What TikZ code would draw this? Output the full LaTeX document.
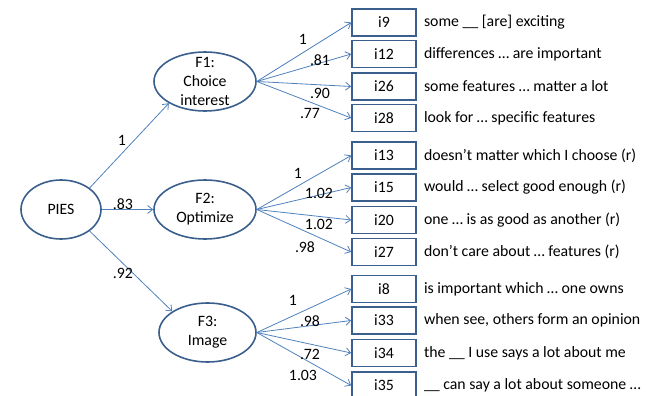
\documentclass[tikz,border=0pt]{standalone}
\usepackage{fontspec}
\setmainfont{Carlito}
\usetikzlibrary{shapes.geometric,positioning,arrows.meta}
\definecolor{shapeblue}{HTML}{3A5F8C}
\definecolor{lineblue}{HTML}{4F81BD}

\begin{document}
\begin{tikzpicture}[
  x = 1pt, y = -1pt,
  font = \fontsize{15.8}{19}\selectfont,
  factor/.style = {draw = shapeblue, line width = 1.6pt, ellipse, align = center,
                   inner xsep = 0pt, inner ysep = -8pt, minimum height = 59pt},
  item/.style = {draw = shapeblue, line width = 1.6pt, inner sep = 0pt,
                 minimum width = 64pt, minimum height = 27pt},
  wording/.style = {anchor = west, inner sep = 0pt},
  load/.style = {draw = lineblue, line width = 0.8pt,
                 -{Straight Barb[length = 5pt, width = 8pt]}},
  ]
  \useasboundingbox (0,0) rectangle (651,396);

  % latent variables
  \node[factor, minimum width = 80pt]  (PIES) at (61,209.5)  {PIES};
  \node[factor, minimum width = 102pt] (F1)   at (205,81.5)  {F1:\\Choice\\interest};
  \node[factor, minimum width = 102pt] (F2)   at (205,209.5) {F2:\\Optimize};
  \node[factor, minimum width = 97pt]  (F3)   at (207.5,332.5) {F3:\\Image};

  % items of F1
  \node[item] (i9)  at (384,22.5) {i9};
  \node[item] (i12) at (384,54)   {i12};
  \node[item] (i26) at (384,86.5) {i26};
  \node[item] (i28) at (384,118)  {i28};
  % items of F2
  \node[item] (i13) at (384,155.5) {i13};
  \node[item] (i15) at (384,187.5) {i15};
  \node[item] (i20) at (384,220)   {i20};
  \node[item] (i27) at (384,252)   {i27};
  % items of F3
  \node[item] (i8)  at (384,289)   {i8};
  \node[item] (i33) at (384,320.5) {i33};
  \node[item] (i34) at (384,353)   {i34};
  \node[item] (i35) at (384,385.5) {i35};

  % item wordings
  \node[wording, right = 7pt of i9]  (t9)  {some \_\_ [are] exciting};
  \node[wording, right = 7pt of i12] (t12) {differences … are important};
  \node[wording, right = 7pt of i26] (t26) {some features … matter a lot};
  \node[wording, right = 7pt of i28] (t28) {look for … specific features};
  \node[wording, right = 7pt of i13] (t13) {doesn’t matter which I choose (r)};
  \node[wording, right = 7pt of i15] (t15) {would … select good enough (r)};
  \node[wording, right = 7pt of i20] (t20) {one … is as good as another (r)};
  \node[wording, right = 7pt of i27] (t27) {don’t care about … features (r)};
  \node[wording, right = 7pt of i8]  (t8)  {is important which … one owns};
  \node[wording, right = 7pt of i33] (t33) {when see, others form an opinion};
  \node[wording, right = 7pt of i34] (t34) {the \_\_ I use says a lot about me};
  \node[wording, right = 7pt of i35] (t35) {\_\_ can say a lot about someone …};

  % structural paths
  \draw[load] (PIES.37)   -- (F1.211);
  \draw[load] (PIES.east) -- (F2.west);
  \draw[load] (PIES.-37)  -- (F3.149);
  \node (sF1) at (122,140) {1};
  \node (sF2) at (123,204) {.83};
  \node (sF3) at (123,273) {.92};

  % loadings
  \draw[load] (F1.east) -- (i9.west);
  \draw[load] (F1.east) -- (i12.west);
  \draw[load] (F1.east) -- (i26.west);
  \draw[load] (F1.east) -- (i28.west);
  \draw[load] (F2.east) -- (i13.west);
  \draw[load] (F2.east) -- (i15.west);
  \draw[load] (F2.east) -- (i20.west);
  \draw[load] (F2.east) -- (i27.west);
  \draw[load] (F3.east) -- (i8.west);
  \draw[load] (F3.east) -- (i33.west);
  \draw[load] (F3.east) -- (i34.west);
  \draw[load] (F3.east) -- (i35.west);

  \node (l9)  at (303,39)  {1};
  \node (l12) at (320,60)  {.81};
  \node (l26) at (320,93)  {.90};
  \node (l28) at (310,113) {.77};
  \node (l13) at (298,173) {1};
  \node (l15) at (319,193) {1.02};
  \node (l20) at (319,224) {1.02};
  \node (l27) at (305,247) {.98};
  \node (l8)  at (293,300) {1};
  \node (l33) at (310,321) {.98};
  \node (l34) at (310,354) {.72};
  \node (l35) at (303,375) {1.03};
\end{tikzpicture}
\end{document}
